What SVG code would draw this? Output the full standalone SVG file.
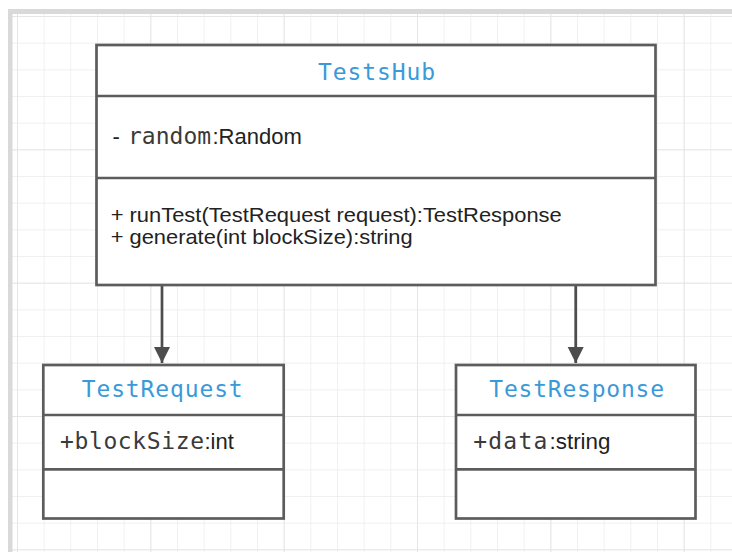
<svg xmlns="http://www.w3.org/2000/svg" width="732" height="552" viewBox="0 0 732 552">
  <style>
    .box { fill: #ffffff; stroke: #5c5c5c; stroke-width: 2.7; }
    .div { stroke: #5c5c5c; stroke-width: 2.7; fill: none; }
    .title { font-family: "DejaVu Sans Mono", monospace; font-size: 23px; fill: #3a9ad9; }
    .mono { font-family: "DejaVu Sans Mono", monospace; font-size: 23px; fill: #3a3a3a; }
    .sans { font-family: "Liberation Sans", Arial, sans-serif; font-size: 22px; fill: #222222; }
    .op { font-size: 21px; }
    .edge { stroke: #4d4d4d; stroke-width: 2.7; fill: none; }
  </style>
  <defs>
    <pattern id="gridMinor" x="17" y="16" width="26.667" height="26.667" patternUnits="userSpaceOnUse">
      <path d="M0 0 H26.667 M0 0 V26.667" stroke="#ebebeb" stroke-width="1.4" fill="none"/>
    </pattern>
    <pattern id="gridMajor" x="17" y="16" width="133.333" height="133.333" patternUnits="userSpaceOnUse">
      <path d="M0 0 H133.333 M0 0 V133.333" stroke="#e3e3e3" stroke-width="1.6" fill="none"/>
    </pattern>
    <marker id="arrow" markerUnits="userSpaceOnUse" markerWidth="16" markerHeight="24" refX="16" refY="8" orient="auto">
      <path d="M0 0 L16 8 L0 16 Z" fill="#4d4d4d"/>
    </marker>
  </defs>

  <!-- canvas -->
  <rect x="0" y="0" width="732" height="552" fill="#ffffff"/>
  <rect x="12" y="14" width="720" height="538" fill="url(#gridMinor)"/>
  <rect x="12" y="14" width="720" height="538" fill="url(#gridMajor)"/>
  <rect x="8" y="9" width="724" height="5" fill="#d9d9d9"/>
  <rect x="8" y="9" width="4.5" height="543" fill="#d9d9d9"/>

  <!-- connectors -->
  <g id="connectors">
    <line class="edge" x1="162" y1="285" x2="162" y2="363" marker-end="url(#arrow)"/>
    <line class="edge" x1="575.7" y1="285" x2="575.7" y2="363" marker-end="url(#arrow)"/>
  </g>

  <!-- TestsHub class -->
  <g id="TestsHub">
    <rect class="box" x="96.5" y="45" width="559" height="240"/>
    <line class="div" x1="96.5" y1="96" x2="655.5" y2="96"/>
    <line class="div" x1="96.5" y1="178" x2="655.5" y2="178"/>
    <text class="title" x="318" y="80" textLength="117" lengthAdjust="spacing">TestsHub</text>
    <text class="sans" x="112.5" y="144">-</text>
    <text class="mono" x="128" y="144">random</text>
    <text class="sans" x="212.5" y="144">:Random</text>
    <text class="sans op" x="110.7" y="221.5" textLength="451" lengthAdjust="spacingAndGlyphs">+ runTest(TestRequest request):TestResponse</text>
    <text class="sans op" x="110.7" y="243.5" textLength="302" lengthAdjust="spacingAndGlyphs">+ generate(int blockSize):string</text>
  </g>

  <!-- TestRequest class -->
  <g id="TestRequest">
    <rect class="box" x="43.3" y="365" width="240.4" height="153.5"/>
    <line class="div" x1="43.3" y1="415" x2="283.7" y2="415"/>
    <line class="div" x1="43.3" y1="469.3" x2="283.7" y2="469.3"/>
    <text class="title" x="81.7" y="397" textLength="161" lengthAdjust="spacing">TestRequest</text>
    <text class="mono" x="60" y="448.5" textLength="144" lengthAdjust="spacing">+blockSize</text>
    <text class="sans" x="204.5" y="448.5">:int</text>
  </g>

  <!-- TestResponse class -->
  <g id="TestResponse">
    <rect class="box" x="456" y="365" width="239.5" height="153.5"/>
    <line class="div" x1="456" y1="415" x2="695.5" y2="415"/>
    <line class="div" x1="456" y1="469.3" x2="695.5" y2="469.3"/>
    <text class="title" x="489.3" y="397" textLength="174.7" lengthAdjust="spacing">TestResponse</text>
    <text class="mono" x="473.3" y="448.5" textLength="74" lengthAdjust="spacing">+data</text>
    <text class="sans" x="549.5" y="448.5" textLength="61" lengthAdjust="spacingAndGlyphs">:string</text>
  </g>
</svg>
